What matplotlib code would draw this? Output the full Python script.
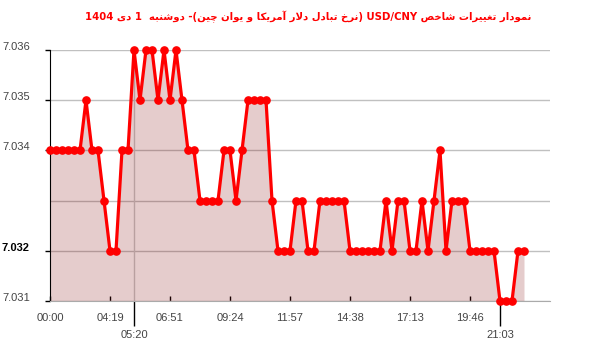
import re
import matplotlib
matplotlib.use('Agg')
import matplotlib.pyplot as plt

# USD/CNY quotes through the day (category axis, one point per quote)
values = [
    7.034, 7.034, 7.034, 7.034, 7.034, 7.034, 7.035, 7.034, 7.034, 7.033,
    7.032, 7.032, 7.034, 7.034, 7.036, 7.035, 7.036, 7.036, 7.035, 7.036,
    7.035, 7.036, 7.035, 7.034, 7.034, 7.033, 7.033, 7.033, 7.033, 7.034,
    7.034, 7.033, 7.034, 7.035, 7.035, 7.035, 7.035, 7.033, 7.032, 7.032,
    7.032, 7.033, 7.033, 7.032, 7.032, 7.033, 7.033, 7.033, 7.033, 7.033,
    7.032, 7.032, 7.032, 7.032, 7.032, 7.032, 7.033, 7.032, 7.033, 7.033,
    7.032, 7.032, 7.033, 7.032, 7.033, 7.034, 7.032, 7.033, 7.033, 7.033,
    7.032, 7.032, 7.032, 7.032, 7.032, 7.031, 7.031, 7.031, 7.032, 7.032,
]
x_ticks = [0, 10, 20, 30, 40, 50, 60, 70]
x_labels = ['00:00', '04:19', '06:51', '09:24', '11:57', '14:38', '17:13', '19:46']
x_extra = [14, 75]
x_extra_labels = ['05:20', '21:03']
y_ticks = [7.031, 7.032, 7.033, 7.034, 7.035, 7.036]
y_labels = ['7.031', '7.032', '', '7.034', '7.035', '7.036']
title_fa = 'نمودار تغییرات شاخص USD/CNY (نرخ تبادل دلار آمریکا و یوان چین)- دوشنبه  1 دی 1404'

# minimal Persian shaping + RTL ordering (matplotlib has no text shaping)
FORMS = {
    '\u0627': ('\uFE8D', '\uFE8E', None, None),
    '\u0622': ('\uFE81', '\uFE82', None, None),
    '\u0628': ('\uFE8F', '\uFE90', '\uFE91', '\uFE92'),
    '\u062A': ('\uFE95', '\uFE96', '\uFE97', '\uFE98'),
    '\u062E': ('\uFEA5', '\uFEA6', '\uFEA7', '\uFEA8'),
    '\u062F': ('\uFEA9', '\uFEAA', None, None),
    '\u0631': ('\uFEAD', '\uFEAE', None, None),
    '\u0632': ('\uFEAF', '\uFEB0', None, None),
    '\u0634': ('\uFEB5', '\uFEB6', '\uFEB7', '\uFEB8'),
    '\u0635': ('\uFEB9', '\uFEBA', '\uFEBB', '\uFEBC'),
    '\u063A': ('\uFECD', '\uFECE', '\uFECF', '\uFED0'),
    '\u0644': ('\uFEDD', '\uFEDE', '\uFEDF', '\uFEE0'),
    '\u0645': ('\uFEE1', '\uFEE2', '\uFEE3', '\uFEE4'),
    '\u0646': ('\uFEE5', '\uFEE6', '\uFEE7', '\uFEE8'),
    '\u0647': ('\uFEE9', '\uFEEA', '\uFEEB', '\uFEEC'),
    '\u0648': ('\uFEED', '\uFEEE', None, None),
    '\u06A9': ('\uFB8E', '\uFB8F', '\uFB90', '\uFB91'),
    '\u0686': ('\uFB7A', '\uFB7B', '\uFB7C', '\uFB7D'),
    '\u06CC': ('\uFBFC', '\uFBFD', '\uFBFE', '\uFBFF'),
}
LAM_ALEF = {'\u0627': ('\uFEFB', '\uFEFC'), '\u0622': ('\uFEF5', '\uFEF6')}


def shape(text):
    s = text.replace('\u064A', '\u06CC').replace('\u0643', '\u06A9')
    out = []
    i = 0
    while i < len(s):
        c = s[i]
        if c not in FORMS:
            out.append(c)
            i += 1
            continue
        prev = s[i - 1] if i > 0 else ''
        nxt = s[i + 1] if i + 1 < len(s) else ''
        jp = prev in FORMS and FORMS[prev][2] is not None
        if c == '\u0644' and nxt in LAM_ALEF:
            out.append(LAM_ALEF[nxt][1 if jp else 0])
            i += 2
            continue
        jn = FORMS[c][2] is not None and nxt in FORMS
        if jp and jn:
            out.append(FORMS[c][3])
        elif jp:
            out.append(FORMS[c][1])
        elif jn:
            out.append(FORMS[c][2])
        else:
            out.append(FORMS[c][0])
        i += 1
    return ''.join(out)


def rtl(text):
    mirror = {'(': ')', ')': '('}
    runs = re.split(r'([A-Za-z0-9/.]+)', shape(text))
    parts = []
    for r in runs:
        if re.fullmatch(r'[A-Za-z0-9/.]+', r):
            parts.append(r)
        else:
            parts.append(''.join(mirror.get(ch, ch) for ch in reversed(r)))
    return ''.join(reversed(parts))


fig = plt.figure(figsize=(6, 3.52), dpi=100)
ax = fig.add_axes([50 / 600, 1 - 301 / 352, 500 / 600, 251 / 352])

x = list(range(len(values)))
ax.fill_between(x, 7.031, values, color='#800000', alpha=0.2, lw=0, zorder=2)
ax.plot(x, values, color='#ff0000', lw=2.3, marker='o', ms=5.2,
        clip_on=False, zorder=4)
ax.axvline(14, color='#c8c8c8', lw=1, zorder=1)

ax.set_xlim(0, 500 / 6)
ax.set_ylim(7.031, 7.036)

ax.spines['right'].set_visible(False)
ax.spines['top'].set_visible(False)
ax.spines['left'].set_color('black')
ax.spines['bottom'].set_color('#aaaaaa')
ax.yaxis.grid(True, color='#c0c0c0', lw=1)
ax.set_axisbelow(True)

ax.set_yticks(y_ticks, y_labels, ha='left', va='baseline',
              family='Liberation Sans')
ax.tick_params(axis='y', direction='out', length=3.6, width=1, pad=31,
               labelsize=8, labelcolor='#444444')
ax.yaxis.get_major_ticks()[2].tick1line.set_visible(False)
cur = ax.get_yticklabels()[1]
cur.set_color('black')
cur.set_fontweight('bold')

ax.set_xticks(x_ticks, x_labels, family='Liberation Sans')
ax.set_xticks(x_extra, x_extra_labels, minor=True, family='Liberation Sans')
ax.tick_params(axis='x', which='major', direction='in', length=3.6, width=1,
               pad=8.5, labelsize=8, labelcolor='#444444')
ax.tick_params(axis='x', which='minor', direction='out', length=18, width=1,
               pad=3, labelsize=8, labelcolor='#444444')
mt = ax.xaxis.get_minor_ticks()
mt[0].tick1line.set_color('#c8c8c8')
mt[1].tick1line.set_color('black')

fig.text(308 / 600, 1 - 17 / 352, rtl(title_fa), color='red', fontsize=7.3,
         fontweight='bold', ha='center', va='center',
         family=['DejaVu Sans', 'Liberation Sans'])

fig.savefig('out.png', dpi=100)
